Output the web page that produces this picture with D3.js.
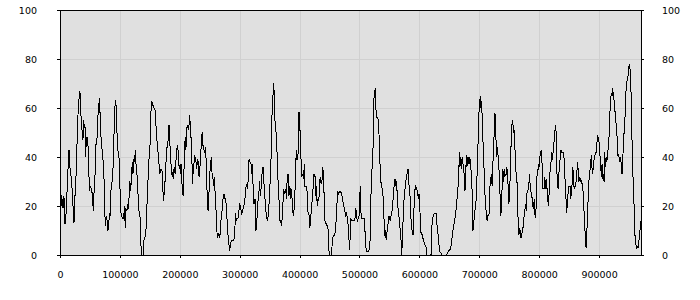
<!DOCTYPE html>
<html>
<head>
<meta charset="utf-8">
<script src="https://cdn.jsdelivr.net/npm/d3@7"></script>
<style>
  body { margin: 0; background: #fff; }
  #chart text { font-family: "DejaVu Sans", Verdana, sans-serif; font-size: 9.5px; fill: #000; }
</style>
</head>
<body>
<div id="chart"></div>
<script>
// ---- Data ----
const positions = [
  0,2800,3900,5000,6100,7800,8300,9400,10600,12200,
  13900,15000,16100,17200,18900,20600,22200,23300,25000,26700,
  27800,29400,30600,32200,33300,34400,36100,37200,38300,39400,
  40600,41700,42800,43900,45000,46100,47200,48300,49400,50600,
  52200,53900,55600,56700,57800,58900,60000,61100,62800,63900,
  65000,66100,67200,68900,70600,72200,73300,75000,76100,77200,
  78300,80000,81100,82800,83900,85000,86100,87800,88900,90600,
  92200,93300,95000,96100,97200,98900,100000,101100,102800,104400,
  106100,107800,108900,110000,111700,112800,114400,115600,116700,117800,
  119400,120600,121700,122800,123900,125000,126100,127200,128900,130600,
  131700,132800,133900,135000,136100,138900,140000,141700,143300,144400,
  145600,147200,148300,149400,150600,151700,153300,154400,155600,157200,
  158900,160000,161100,162800,163900,165000,166700,167800,168900,170600,
  171700,172800,173900,175600,177200,178300,180000,181100,182200,183300,
  184400,186100,187200,188300,189400,190600,192200,193300,194400,195600,
  196700,197800,199400,200600,201700,202800,203900,205600,206700,207800,
  208900,210000,211100,212200,213900,215000,216100,217800,218900,220000,
  221100,222800,223900,225000,226700,228300,229400,230600,232200,233300,
  235000,236100,237800,238900,240000,241700,242800,243900,245000,246100,
  247200,248300,249400,250600,251700,252800,253900,255600,256700,257800,
  259400,260600,261700,263300,265000,266700,267800,269400,270600,272200,
  273900,275000,276700,277800,279400,280600,282200,283300,284400,286100,
  287800,290000,291700,292800,294400,295600,297200,298300,300000,301700,
  303300,305000,306700,308300,309400,311100,312800,314400,315600,
  318900,320000,321100,322800,323900,325600,327200,328900,330000,331700,
  333300,334400,336100,337200,338900,340000,341700,343300,345000,346700,
  348300,350000,351700,352800,353900,355600,356700,357800,359400,361100,
  362200,363300,364400,365600,366700,368300,370000,371700,373300,375000,
  376700,378300,379400,381100,382200,383900,385000,386700,388300,390000,
  391700,393300,394400,395600,396700,397800,398900,400000,401100,402200,
  403900,405600,406700,407800,408900,410600,412200,413300,415000,416100,
  417200,418300,419400,421100,422800,423900,425600,427200,428300,429400,
  430600,432200,433300,434400,436100,437800,438900,440000,441100,442200,
  443900,445600,447200,448900,450000,453300,455000,456700,458300,460000,
  461700,463300,465000,466700,468300,470000,471700,473300,475000,476700,
  478300,480000,481700,483300,484400,485600,487200,488900,490600,492200,
  493900,495600,496700,498300,500000,501100,502800,504400,506100,507800,
  509400,510600,512200,515600,517200,518300,519400,521100,522200,523300,
  524400,525600,526700,527800,528900,530000,531700,532800,533900,535600,
  537200,538900,540000,541100,542800,543900,545000,546100,547800,549400,
  551100,552800,554400,556100,557800,559400,560600,562200,563300,565000,
  566700,568300,569400,570600,571700,572800,574400,576100,577800,579400,
  581100,582200,583900,585000,586100,587800,589400,590600,591700,592800,
  593900,595600,597200,598300,599400,600600,601700,603300,605000,606700,
  608300,610000,611700,612800,619400,620600,621700,623300,625000,628300,
  630000,631700,632800,633900,635600,637200,645600,648300,650000,652200,
  653900,655600,657200,658900,660600,662200,663900,665600,666700,667800,
  668900,670000,671100,672200,673300,675000,676100,677200,678300,679400,
  680600,681700,682800,683900,685000,686100,687200,688300,689400,690600,
  691700,693300,695000,696100,697200,698300,699400,
  701700,702800,703900,705000,706100,707200,708300,709400,710600,711700,
  713300,714400,716100,717200,718300,719400,720600,721700,722800,723900,
  725000,726100,727200,728300,729400,730600,731700,732800,733900,735000,
  736100,737200,738300,739400,740600,741700,742800,743900,745000,746100,
  747200,748300,749400,750600,751700,752800,753900,755000,756100,757200,
  758300,759400,760600,761700,762800,763900,765000,766100,767200,768300,
  769400,770600,771700,772800,773900,775000,776100,777200,778300,779400,
  780600,781700,782800,783900,785000,786100,787200,788300,789400,790600,
  791700,792800,793900,795000,796100,797200,798300,799400,800600,801700,
  802800,803900,805000,806100,808300,809400,810600,811700,812800,813900,
  815000,816100,817200,818300,819400,820600,821700,822800,823900,825000,
  826100,827200,828300,829400,830600,831700,832800,833900,835000,836100,
  837200,840600,841700,842800,843900,845000,846100,847200,848300,849400,
  851700,852800,853900,855000,856100,857200,858300,859400,860600,861700,
  862800,863900,865000,866100,867200,868300,869400,870600,871700,872800,
  873900,875000,876100,877200,878300,879400,880600,881700,882800,883900,
  885000,886100,887200,888300,889400,890600,891700,892800,893900,895000,
  896100,897200,898300,899400,900600,901700,902800,903900,905000,906100,
  907200,908300,909400,910600,911700,912800,913900,915000,916100,917200,
  918300,919400,920600,921700,922800,923900,925000,926100,927200,928300,
  929400,930600,931700,932800,933900,935000,936100,937200,938300,939400,
  940600,941700,942800,943900,945000,946100,947200,948300,949400,950600,
  951700,952800,953900,955000,956100,957200,958300,959400,960600,961700,
  962800,963900,965000,966100,967200,968300,969500
];

const values = [
  31,20,23,19,24,22,13,13,20,28,
  38,43,39,33,32,25,18,13,24,32,
  40,54,60,65,67,59,53,50,47,55,
  52,53,40,48,44,48,42,33,26,28,
  27,25,18,25,28,36,45,46,50,62,
  57,64,55,46,42,38,33,16,12,16,
  15,10,12,17,16,26,29,31,38,53,
  63,63,51,44,42,39,29,18,16,15,
  15,20,11,19,18,20,19,25,30,26,
  31,38,33,35,41,38,43,35,32,23,
  18,17,15,5,0,0,6,7,10,12,
  24,32,38,42,46,58,63,61,61,60,
  59,55,47,46,41,38,33,35,35,34,
  27,22,25,31,39,44,44,53,53,47,
  40,35,32,34,31,36,33,37,42,44,
  45,38,35,37,33,37,27,24,33,40,
  48,43,46,53,53,51,57,53,47,42,
  29,36,38,40,39,35,39,38,32,35,
  40,48,50,44,43,42,44,39,28,24,
  18,23,29,35,38,40,33,31,28,32,
  23,18,10,7,9,7,10,17,18,23,
  25,23,23,19,12,8,4,1.5,4,6,
  6,6,8,17,14,15,15,17,21,19,
  17,18,20,21,25,29,27,31,39,
  37,33,37,25,21,23,10,15,21,24,
  30,24,28,33,36,31,25,19,15,14,
  18,25,36,42,57,65,70,65,51,50,
  43,33,29,23,14,14,12,18,27,25,
  27,23,33,33,24,28,23,27,18,16,
  22,33,43,39,39,43,58,58,47,40,
  32,33,31,37,28,28,28,18,17,16,
  11,16,17,23,28,33,33,24,28,20,
  23,22,29,32,29,31,36,29,24,14,
  13,12,12,2,0,0,7,8,8,10,
  17,26,25,26,26,25,23,20,19,16,
  17,15,10,2,7,15,14,14,14,14,
  19,15,14,15,17,28,15,15,15,15,
  9,3,1.5,1.5,3.5,10,27,36,40,51,
  66,67,68,57,56,56,55,48,39,30,
  28,26,20,14,7,10,6,10,13,16,
  14,16,18,23,28,31,29,30,21,18,
  14,9,6,0,8,14,23,27,31,33,
  35,30,25,23,14,10,8,16,24,27,
  28,27,25,23,25,23,9,9,8,6,
  5,3.5,3,0,0,10,15,16,17,17,
  10,8,4,1.5,1,0,0,1.5,2,2.5,
  6,9,12,14,17,21,26,31,42,36,
  40,35,39,40,35,33,26,30,41,36,
  40,37,40,37,39,35,33,23,10,12,
  16,19,23,31,42,47,58,
  65,60,63,55,47,40,33,25,22,16,
  14,16,16,21,32,28,33,28,38,40,
  53,58,55,43,40,44,39,35,32,21,
  16,23,28,35,30,35,32,33,33,36,
  31,28,21,25,33,43,50,55,54,50,
  51,44,39,31,31,23,12,8,11,10,
  7,7,10,11,12,17,18,21,18,25,
  26,27,29,33,28,26,25,23,20,19,
  23,17,15,20,31,35,35,37,36,42,
  42,43,36,27,27,32,27,31,27,27,
  20,23,28,35,36,42,39,41,43,47,
  50,53,50,35,29,27,32,38,39,43,
  42,42,39,33,27,22,17,23,25,28,
  28,23,27,29,36,32,27,28,28,30,
  33,38,35,30,31,30,31,30,29,28,
  23,17,12,6,3,9,14,23,29,33,
  35,38,41,35,33,37,39,40,42,42,
  44,49,46,48,44,40,36,32,37,31,
  33,30,42,36,40,38,40,43,44,53,
  59,64,66,65,68,65,63,59,58,54,
  50,47,40,41,39,38,40,36,33,39,
  44,50,54,59,67,70,72,73,76,78,
  76,72,61,47,39,25,21,10,6,4,
  3,3.5,3,5.5,7,10,14
];

const xTicks = [0, 100000, 200000, 300000, 400000, 500000, 600000, 700000, 800000, 900000];
const yTicks = [0, 20, 40, 60, 80, 100];
const xDomain = [0, 970000];
const yDomain = [0, 100];

// ---- Layout ----
const width = 700, height = 300;
const margin = { top: 10, right: 59, bottom: 45, left: 60 };
const plotW = width - margin.left - margin.right;
const plotH = height - margin.top - margin.bottom;

const svg = d3.select("#chart").append("svg")
  .attr("width", width)
  .attr("height", height);

const g = svg.append("g")
  .attr("transform", `translate(${margin.left},${margin.top})`);

const x = d3.scaleLinear().domain(xDomain).range([0, plotW]);
const y = d3.scaleLinear().domain(yDomain).range([plotH, 0]);

// Background
g.append("rect")
  .attr("width", plotW + 1)
  .attr("height", plotH + 1)
  .attr("fill", "#e0e0e0");

// Grid lines
g.append("g").selectAll("line")
  .data(xTicks.slice(1))
  .join("line")
  .attr("x1", d => Math.round(x(d)) + 0.5)
  .attr("x2", d => Math.round(x(d)) + 0.5)
  .attr("y1", 0)
  .attr("y2", plotH)
  .attr("stroke", "#d0d0d0")
  .attr("shape-rendering", "crispEdges");

g.append("g").selectAll("line")
  .data(yTicks.slice(1, -1))
  .join("line")
  .attr("x1", 0)
  .attr("x2", plotW)
  .attr("y1", d => Math.round(y(d)) + 0.5)
  .attr("y2", d => Math.round(y(d)) + 0.5)
  .attr("stroke", "#d0d0d0")
  .attr("shape-rendering", "crispEdges");

// The series
const line = d3.line()
  .x((d, i) => x(positions[i]))
  .y(d => y(d));

g.append("path")
  .datum(values)
  .attr("fill", "none")
  .attr("stroke", "#000")
  .attr("stroke-width", 1)
  .attr("shape-rendering", "crispEdges")
  .attr("d", line);

// Top border
g.append("line")
  .attr("x1", 0).attr("x2", plotW + 1)
  .attr("y1", 0.5).attr("y2", 0.5)
  .attr("stroke", "#000")
  .attr("shape-rendering", "crispEdges");

// Axes
const xAxis = g.append("g")
  .attr("transform", `translate(0,${plotH})`)
  .call(d3.axisBottom(x).tickValues(xTicks).tickFormat(d3.format("d"))
    .tickSize(3).tickSizeOuter(0).tickPadding(13));

const yAxisLeft = g.append("g")
  .call(d3.axisLeft(y).tickValues(yTicks).tickSize(3).tickSizeOuter(0).tickPadding(20));

const yAxisRight = g.append("g")
  .attr("transform", `translate(${plotW},0)`)
  .call(d3.axisRight(y).tickValues(yTicks).tickSize(3).tickSizeOuter(0).tickPadding(18));

svg.selectAll(".domain, .tick line")
  .attr("stroke", "#000")
  .attr("shape-rendering", "crispEdges");
svg.selectAll(".tick text").attr("font-size", null).attr("font-family", null);
</script>
</body>
</html>
